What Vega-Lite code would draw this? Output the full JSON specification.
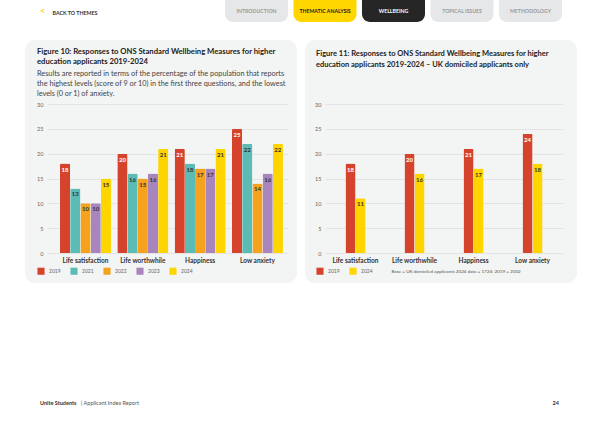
{
  "$schema": "https://vega.github.io/schema/vega-lite/v6.json",
  "background": "#ffffff",
  "padding": {"left": 25, "top": 0, "right": 0, "bottom": 0},
  "spacing": 18,
  "resolve": {"scale": {"color": "independent", "x": "independent", "y": "independent"}, "legend": {"color": "independent"}},
  "config": {
    "font": "Lato",
    "view": {"stroke": null},
    "axis": {"labelFont": "Lato", "titleFont": "Lato"},
    "legend": {"labelFont": "Lato"},
    "title": {"font": "Lato", "subtitleFont": "Lato"}
  },
  "datasets": {
    "fig10": [
      {"measure": "Life satisfaction", "year": "2019", "value": 18},
      {"measure": "Life satisfaction", "year": "2021", "value": 13},
      {"measure": "Life satisfaction", "year": "2022", "value": 10},
      {"measure": "Life satisfaction", "year": "2023", "value": 10},
      {"measure": "Life satisfaction", "year": "2024", "value": 15},
      {"measure": "Life worthwhile", "year": "2019", "value": 20},
      {"measure": "Life worthwhile", "year": "2021", "value": 16},
      {"measure": "Life worthwhile", "year": "2022", "value": 15},
      {"measure": "Life worthwhile", "year": "2023", "value": 16},
      {"measure": "Life worthwhile", "year": "2024", "value": 21},
      {"measure": "Happiness", "year": "2019", "value": 21},
      {"measure": "Happiness", "year": "2021", "value": 18},
      {"measure": "Happiness", "year": "2022", "value": 17},
      {"measure": "Happiness", "year": "2023", "value": 17},
      {"measure": "Happiness", "year": "2024", "value": 21},
      {"measure": "Low anxiety", "year": "2019", "value": 25},
      {"measure": "Low anxiety", "year": "2021", "value": 22},
      {"measure": "Low anxiety", "year": "2022", "value": 14},
      {"measure": "Low anxiety", "year": "2023", "value": 16},
      {"measure": "Low anxiety", "year": "2024", "value": 22}
    ],
    "fig11": [
      {"measure": "Life satisfaction", "year": "2019", "value": 18},
      {"measure": "Life satisfaction", "year": "2024", "value": 11},
      {"measure": "Life worthwhile", "year": "2019", "value": 20},
      {"measure": "Life worthwhile", "year": "2024", "value": 16},
      {"measure": "Happiness", "year": "2019", "value": 21},
      {"measure": "Happiness", "year": "2024", "value": 17},
      {"measure": "Low anxiety", "year": "2019", "value": 24},
      {"measure": "Low anxiety", "year": "2024", "value": 18}
    ],
    "tabs": [
      {"tab": "INTRODUCTION"},
      {"tab": "THEMATIC ANALYSIS"},
      {"tab": "WELLBEING"},
      {"tab": "TOPICAL ISSUES"},
      {"tab": "METHODOLOGY"}
    ],
    "footer": [
      {"label": "Unite Students", "pos": "left", "kind": "brand"},
      {"label": "|  Applicant Index Report", "pos": "left", "kind": "doc"},
      {"label": "24", "pos": "right", "kind": "page"}
    ]
  },
  "vconcat": [
    {
      "width": 552,
      "height": 22,
      "data": {"name": "tabs"},
      "title": {"text": "<", "anchor": "start", "frame": "group", "dx": 15, "offset": -16, "fontSize": 9, "fontWeight": "bold", "color": "#ffd600"},
      "encoding": {
        "x": {"field": "tab", "type": "nominal", "sort": null,
          "axis": {"orient": "top", "labels": false, "ticks": false, "domain": false, "grid": false,
            "title": "BACK TO THEMES", "titleX": 27, "titleY": 12, "titleAlign": "left", "titleAnchor": "start", "titleBaseline": "middle", "titleFontSize": 5.3, "titleFontWeight": "bold", "titleColor": "#333333"},
          "scale": {"range": [200, 537], "paddingInner": 0.08, "paddingOuter": 0}}
      },
      "layer": [
        {
          "mark": {"type": "bar", "cornerRadiusBottomLeft": 8, "cornerRadiusBottomRight": 8},
          "encoding": {
            "color": {"field": "tab", "type": "nominal", "legend": null, "scale": {"domain": ["INTRODUCTION", "THEMATIC ANALYSIS", "WELLBEING", "TOPICAL ISSUES", "METHODOLOGY"], "range": ["#e6e7e8", "#ffd600", "#262626", "#e6e7e8", "#e6e7e8"]}}
          }
        },
        {
          "mark": {"type": "text", "fontSize": 5.2, "fontWeight": "bold"},
          "encoding": {
            "text": {"field": "tab"},
            "color": {"condition": [{"test": "datum.tab === 'WELLBEING'", "value": "#ffffff"}, {"test": "datum.tab === 'THEMATIC ANALYSIS'", "value": "#222222"}], "value": "#9a9a9a"}
          }
        }
      ]
    },
    {
      "spacing": 115,
      "resolve": {"scale": {"color": "independent", "x": "independent", "y": "independent"}, "legend": {"color": "independent"}},
      "vconcat": [
        {
          "bounds": "flush",
          "spacing": 8,
          "resolve": {"scale": {"color": "independent", "x": "independent", "y": "independent", "xOffset": "independent"}, "legend": {"color": "independent"}},
          "hconcat": [
            {
              "width": 272,
              "height": 243,
              "view": {"fill": "#f3f4f4", "cornerRadius": 10, "stroke": null},
              "data": {"name": "fig10"},
              "title": {
                "text": ["Figure 10: Responses to ONS Standard Wellbeing Measures for higher", "education applicants 2019-2024"],
                "subtitle": ["Results are reported in terms of the percentage of the population that reports", "the highest levels (score of 9 or 10) in the first three questions, and the lowest", "levels (0 or 1) of anxiety."],
                "anchor": "start", "frame": "group", "dx": 12, "offset": -57,
                "fontSize": 7.7, "fontWeight": "bold", "color": "#222222", "lineHeight": 10.5,
                "subtitleFontSize": 7.3, "subtitleColor": "#444444", "subtitleLineHeight": 10, "subtitlePadding": 4
              },
              "encoding": {
                "x": {"field": "measure", "type": "nominal", "sort": null,
                  "scale": {"range": [22, 263], "paddingInner": 0.11, "paddingOuter": 0.157, "align": 0.72},
                  "axis": {"title": null, "domain": false, "ticks": false, "offset": -30, "labelPadding": 4, "labelAngle": 0, "labelFontSize": 6.5, "labelFontWeight": "bold", "labelColor": "#333333", "grid": false}},
                "xOffset": {"field": "year", "type": "nominal", "sort": null, "scale": {"paddingInner": 0, "paddingOuter": 0}},
                "y": {"field": "value", "type": "quantitative",
                  "scale": {"domain": [0, 30], "range": [213, 64], "nice": false},
                  "axis": {"title": null, "values": [0, 5, 10, 15, 20, 25, 30], "domain": false, "ticks": false, "offset": -22, "labelPadding": 4, "labelFontSize": 5.5, "labelColor": "#666666", "gridColor": "#dcdcdc", "gridWidth": 0.7}}
              },
              "layer": [
                {
                  "mark": {"type": "bar", "cornerRadiusTopLeft": 1.5, "cornerRadiusTopRight": 1.5},
                  "encoding": {
                    "color": {"field": "year", "type": "nominal",
                      "scale": {"domain": ["2019", "2021", "2022", "2023", "2024"], "range": ["#d6432c", "#5bbcb5", "#f5a21f", "#a985bd", "#ffd500"]},
                      "legend": {"orient": "none", "legendX": 12, "legendY": 227, "direction": "horizontal", "title": null, "symbolType": "square", "symbolSize": 50, "symbolStrokeWidth": 0, "labelFontSize": 5, "labelColor": "#666666", "columnPadding": 9, "labelOffset": 4}}
                  }
                },
                {
                  "mark": {"type": "text", "baseline": "top", "dy": 3, "fontSize": 6, "fontWeight": "bold"},
                  "encoding": {
                    "text": {"field": "value", "type": "quantitative"},
                    "color": {"condition": {"test": "datum.year === '2019'", "value": "#ffffff"}, "value": "#333333"}
                  }
                }
              ]
            },
            {
              "width": 272,
              "height": 243,
              "view": {"fill": "#f3f4f4", "cornerRadius": 10, "stroke": null},
              "data": {"name": "fig11"},
              "title": {
                "text": ["Figure 11: Responses to ONS Standard Wellbeing Measures for higher", "education applicants 2019-2024 – UK domiciled applicants only"],
                "anchor": "start", "frame": "group", "dx": 11, "offset": -28,
                "fontSize": 7.5, "fontWeight": "bold", "color": "#222222", "lineHeight": 10.5
              },
              "encoding": {
                "x": {"field": "measure", "type": "nominal", "sort": null,
                  "scale": {"range": [20, 258], "paddingInner": 0.661, "paddingOuter": 0.347, "align": 0.5},
                  "axis": {"domain": false, "ticks": false, "offset": -30, "labelPadding": 4, "labelAngle": 0, "labelFontSize": 6.5, "labelFontWeight": "bold", "labelColor": "#333333", "grid": false,
                    "title": "Base = UK domiciled applicants 2024 data = 1724; 2019 = 2002", "titleX": 86, "titleY": 18, "titleAlign": "left", "titleAnchor": "start", "titleBaseline": "middle", "titleFontSize": 4.6, "titleFontWeight": "normal", "titleColor": "#555555"}},
                "xOffset": {"field": "year", "type": "nominal", "sort": null, "scale": {"paddingInner": 0, "paddingOuter": 0}},
                "y": {"field": "value", "type": "quantitative",
                  "scale": {"domain": [0, 30], "range": [213, 64], "nice": false},
                  "axis": {"title": null, "values": [0, 5, 10, 15, 20, 25, 30], "domain": false, "ticks": false, "offset": -20, "labelPadding": 4, "labelFontSize": 5.5, "labelColor": "#666666", "gridColor": "#dcdcdc", "gridWidth": 0.7}}
              },
              "layer": [
                {
                  "mark": {"type": "bar", "cornerRadiusTopLeft": 1.5, "cornerRadiusTopRight": 1.5},
                  "encoding": {
                    "color": {"field": "year", "type": "nominal",
                      "scale": {"domain": ["2019", "2024"], "range": ["#d6432c", "#ffd500"]},
                      "legend": {"orient": "none", "legendX": 11, "legendY": 227, "direction": "horizontal", "title": null, "symbolType": "square", "symbolSize": 50, "symbolStrokeWidth": 0, "labelFontSize": 5, "labelColor": "#666666", "columnPadding": 9, "labelOffset": 4}}
                  }
                },
                {
                  "mark": {"type": "text", "baseline": "top", "dy": 3, "fontSize": 6, "fontWeight": "bold"},
                  "encoding": {
                    "text": {"field": "value", "type": "quantitative"},
                    "color": {"condition": {"test": "datum.year === '2019'", "value": "#ffffff"}, "value": "#333333"}
                  }
                }
              ]
            }
          ]
        },
        {
          "width": 552,
          "height": 10,
          "data": {"name": "footer"},
          "encoding": {
            "x": {"field": "pos", "type": "nominal", "axis": null, "scale": {"type": "point", "domain": ["left", "right"], "range": [15, 534], "padding": 0}},
            "text": {"field": "label", "type": "nominal"}
          },
          "layer": [
            {"transform": [{"filter": "datum.kind === 'brand'"}], "mark": {"type": "text", "align": "left", "fontSize": 5.5, "fontWeight": "bold", "color": "#333333"}},
            {"transform": [{"filter": "datum.kind === 'doc'"}], "mark": {"type": "text", "align": "left", "dx": 41, "fontSize": 5.5, "color": "#555555"}},
            {"transform": [{"filter": "datum.kind === 'page'"}], "mark": {"type": "text", "align": "right", "fontSize": 5.5, "fontWeight": "bold", "color": "#333333"}}
          ]
        }
      ]
    }
  ]
}
